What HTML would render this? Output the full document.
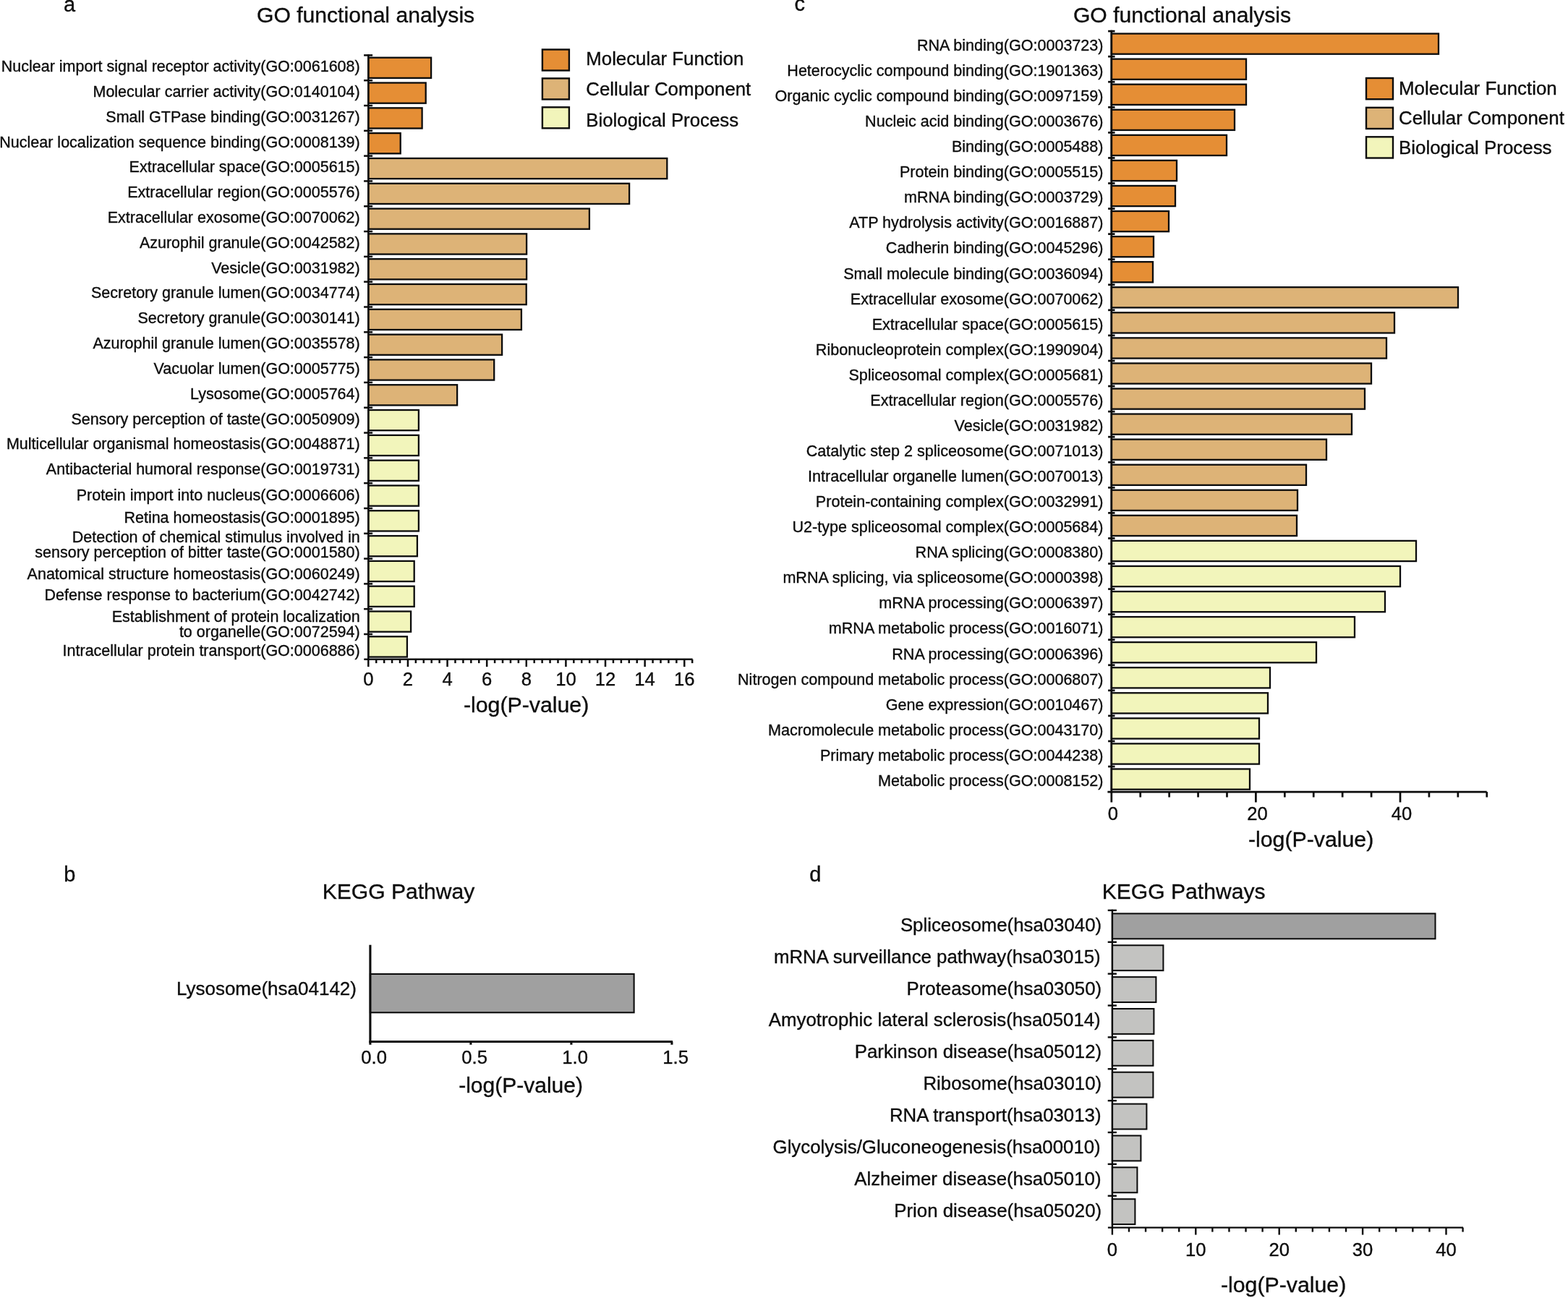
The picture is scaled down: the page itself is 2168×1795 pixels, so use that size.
<!DOCTYPE html>
<html lang="en">
<head>
<meta charset="utf-8">
<title>GO functional analysis and KEGG pathways</title>
<style>
html,body{margin:0;padding:0;background:#fff;}
body{width:2168px;height:1795px;overflow:hidden;}
svg{display:block;font-family:"Liberation Sans",sans-serif;}
svg text{fill:#0c0c0c;stroke:#0c0c0c;stroke-width:0.35px;}
svg line,svg rect{stroke:#0c0c0c;}
</style>
</head>
<body>
<svg role="img" aria-label="GO functional analysis and KEGG pathway bar charts" width="2168" height="1795" viewBox="0 0 2168 1795">
<rect x="0" y="0" width="2168" height="1795" fill="#ffffff" stroke="none" style="stroke:none"/>
<g id="panel-a">
<rect x="509.30" y="79.70" width="86.80" height="28.20" fill="#E58E35" stroke-width="2.3"/>
<rect x="509.30" y="114.51" width="79.40" height="28.20" fill="#E58E35" stroke-width="2.3"/>
<rect x="509.30" y="149.32" width="74.30" height="28.20" fill="#E58E35" stroke-width="2.3"/>
<rect x="509.30" y="184.13" width="44.40" height="28.20" fill="#E58E35" stroke-width="2.3"/>
<rect x="509.30" y="218.94" width="413.00" height="28.20" fill="#DDB377" stroke-width="2.3"/>
<rect x="509.30" y="253.75" width="360.80" height="28.20" fill="#DDB377" stroke-width="2.3"/>
<rect x="509.30" y="288.55" width="305.60" height="28.20" fill="#DDB377" stroke-width="2.3"/>
<rect x="509.30" y="323.36" width="218.80" height="28.20" fill="#DDB377" stroke-width="2.3"/>
<rect x="509.30" y="358.17" width="218.80" height="28.20" fill="#DDB377" stroke-width="2.3"/>
<rect x="509.30" y="392.98" width="218.40" height="28.20" fill="#DDB377" stroke-width="2.3"/>
<rect x="509.30" y="427.79" width="211.60" height="28.20" fill="#DDB377" stroke-width="2.3"/>
<rect x="509.30" y="462.60" width="184.80" height="28.20" fill="#DDB377" stroke-width="2.3"/>
<rect x="509.30" y="497.40" width="173.90" height="28.20" fill="#DDB377" stroke-width="2.3"/>
<rect x="509.30" y="532.21" width="122.80" height="28.20" fill="#DDB377" stroke-width="2.3"/>
<rect x="509.30" y="567.02" width="69.60" height="28.20" fill="#F2F5BB" stroke-width="2.3"/>
<rect x="509.30" y="601.83" width="69.60" height="28.20" fill="#F2F5BB" stroke-width="2.3"/>
<rect x="509.30" y="636.64" width="69.60" height="28.20" fill="#F2F5BB" stroke-width="2.3"/>
<rect x="509.30" y="671.45" width="69.60" height="28.20" fill="#F2F5BB" stroke-width="2.3"/>
<rect x="509.30" y="706.25" width="69.60" height="28.20" fill="#F2F5BB" stroke-width="2.3"/>
<rect x="509.30" y="741.06" width="67.60" height="28.20" fill="#F2F5BB" stroke-width="2.3"/>
<rect x="509.30" y="775.87" width="63.40" height="28.20" fill="#F2F5BB" stroke-width="2.3"/>
<rect x="509.30" y="810.68" width="63.40" height="28.20" fill="#F2F5BB" stroke-width="2.3"/>
<rect x="509.30" y="845.49" width="58.80" height="28.20" fill="#F2F5BB" stroke-width="2.3"/>
<rect x="509.30" y="880.30" width="53.60" height="28.20" fill="#F2F5BB" stroke-width="2.3"/>
<line x1="509.30" y1="75.15" x2="509.30" y2="913.05" stroke-width="2.5"/>
<line x1="503.10" y1="76.40" x2="515.10" y2="76.40" stroke-width="2.5"/>
<line x1="503.10" y1="111.21" x2="515.10" y2="111.21" stroke-width="2.5"/>
<line x1="503.10" y1="146.02" x2="515.10" y2="146.02" stroke-width="2.5"/>
<line x1="503.10" y1="180.82" x2="515.10" y2="180.82" stroke-width="2.5"/>
<line x1="503.10" y1="215.63" x2="515.10" y2="215.63" stroke-width="2.5"/>
<line x1="503.10" y1="250.44" x2="515.10" y2="250.44" stroke-width="2.5"/>
<line x1="503.10" y1="285.25" x2="515.10" y2="285.25" stroke-width="2.5"/>
<line x1="503.10" y1="320.06" x2="515.10" y2="320.06" stroke-width="2.5"/>
<line x1="503.10" y1="354.87" x2="515.10" y2="354.87" stroke-width="2.5"/>
<line x1="503.10" y1="389.67" x2="515.10" y2="389.67" stroke-width="2.5"/>
<line x1="503.10" y1="424.48" x2="515.10" y2="424.48" stroke-width="2.5"/>
<line x1="503.10" y1="459.29" x2="515.10" y2="459.29" stroke-width="2.5"/>
<line x1="503.10" y1="494.10" x2="515.10" y2="494.10" stroke-width="2.5"/>
<line x1="503.10" y1="528.91" x2="515.10" y2="528.91" stroke-width="2.5"/>
<line x1="503.10" y1="563.72" x2="515.10" y2="563.72" stroke-width="2.5"/>
<line x1="503.10" y1="598.52" x2="515.10" y2="598.52" stroke-width="2.5"/>
<line x1="503.10" y1="633.33" x2="515.10" y2="633.33" stroke-width="2.5"/>
<line x1="503.10" y1="668.14" x2="515.10" y2="668.14" stroke-width="2.5"/>
<line x1="503.10" y1="702.95" x2="515.10" y2="702.95" stroke-width="2.5"/>
<line x1="503.10" y1="737.76" x2="515.10" y2="737.76" stroke-width="2.5"/>
<line x1="503.10" y1="772.57" x2="515.10" y2="772.57" stroke-width="2.5"/>
<line x1="503.10" y1="807.37" x2="515.10" y2="807.37" stroke-width="2.5"/>
<line x1="503.10" y1="842.18" x2="515.10" y2="842.18" stroke-width="2.5"/>
<line x1="503.10" y1="876.99" x2="515.10" y2="876.99" stroke-width="2.5"/>
<line x1="503.30" y1="911.80" x2="957.60" y2="911.80" stroke-width="2.5"/>
<line x1="509.30" y1="911.80" x2="509.30" y2="922.10" stroke-width="2.5"/>
<text x="509.3" y="948.0" font-size="25.6" text-anchor="middle">0</text>
<line x1="563.92" y1="911.80" x2="563.92" y2="922.10" stroke-width="2.5"/>
<text x="563.9" y="948.0" font-size="25.6" text-anchor="middle">2</text>
<line x1="618.54" y1="911.80" x2="618.54" y2="922.10" stroke-width="2.5"/>
<text x="618.5" y="948.0" font-size="25.6" text-anchor="middle">4</text>
<line x1="673.16" y1="911.80" x2="673.16" y2="922.10" stroke-width="2.5"/>
<text x="673.2" y="948.0" font-size="25.6" text-anchor="middle">6</text>
<line x1="727.78" y1="911.80" x2="727.78" y2="922.10" stroke-width="2.5"/>
<text x="727.8" y="948.0" font-size="25.6" text-anchor="middle">8</text>
<line x1="782.40" y1="911.80" x2="782.40" y2="922.10" stroke-width="2.5"/>
<text x="782.4" y="948.0" font-size="25.6" text-anchor="middle">10</text>
<line x1="837.02" y1="911.80" x2="837.02" y2="922.10" stroke-width="2.5"/>
<text x="837.0" y="948.0" font-size="25.6" text-anchor="middle">12</text>
<line x1="891.64" y1="911.80" x2="891.64" y2="922.10" stroke-width="2.5"/>
<text x="891.6" y="948.0" font-size="25.6" text-anchor="middle">14</text>
<line x1="946.26" y1="911.80" x2="946.26" y2="922.10" stroke-width="2.5"/>
<text x="946.3" y="948.0" font-size="25.6" text-anchor="middle">16</text>
<line x1="520.22" y1="911.80" x2="520.22" y2="917.10" stroke-width="2.5"/>
<line x1="531.15" y1="911.80" x2="531.15" y2="917.10" stroke-width="2.5"/>
<line x1="542.07" y1="911.80" x2="542.07" y2="917.10" stroke-width="2.5"/>
<line x1="553.00" y1="911.80" x2="553.00" y2="917.10" stroke-width="2.5"/>
<line x1="574.84" y1="911.80" x2="574.84" y2="917.10" stroke-width="2.5"/>
<line x1="585.77" y1="911.80" x2="585.77" y2="917.10" stroke-width="2.5"/>
<line x1="596.69" y1="911.80" x2="596.69" y2="917.10" stroke-width="2.5"/>
<line x1="607.62" y1="911.80" x2="607.62" y2="917.10" stroke-width="2.5"/>
<line x1="629.46" y1="911.80" x2="629.46" y2="917.10" stroke-width="2.5"/>
<line x1="640.39" y1="911.80" x2="640.39" y2="917.10" stroke-width="2.5"/>
<line x1="651.31" y1="911.80" x2="651.31" y2="917.10" stroke-width="2.5"/>
<line x1="662.24" y1="911.80" x2="662.24" y2="917.10" stroke-width="2.5"/>
<line x1="684.08" y1="911.80" x2="684.08" y2="917.10" stroke-width="2.5"/>
<line x1="695.01" y1="911.80" x2="695.01" y2="917.10" stroke-width="2.5"/>
<line x1="705.93" y1="911.80" x2="705.93" y2="917.10" stroke-width="2.5"/>
<line x1="716.86" y1="911.80" x2="716.86" y2="917.10" stroke-width="2.5"/>
<line x1="738.70" y1="911.80" x2="738.70" y2="917.10" stroke-width="2.5"/>
<line x1="749.63" y1="911.80" x2="749.63" y2="917.10" stroke-width="2.5"/>
<line x1="760.55" y1="911.80" x2="760.55" y2="917.10" stroke-width="2.5"/>
<line x1="771.48" y1="911.80" x2="771.48" y2="917.10" stroke-width="2.5"/>
<line x1="793.32" y1="911.80" x2="793.32" y2="917.10" stroke-width="2.5"/>
<line x1="804.25" y1="911.80" x2="804.25" y2="917.10" stroke-width="2.5"/>
<line x1="815.17" y1="911.80" x2="815.17" y2="917.10" stroke-width="2.5"/>
<line x1="826.10" y1="911.80" x2="826.10" y2="917.10" stroke-width="2.5"/>
<line x1="847.94" y1="911.80" x2="847.94" y2="917.10" stroke-width="2.5"/>
<line x1="858.87" y1="911.80" x2="858.87" y2="917.10" stroke-width="2.5"/>
<line x1="869.79" y1="911.80" x2="869.79" y2="917.10" stroke-width="2.5"/>
<line x1="880.72" y1="911.80" x2="880.72" y2="917.10" stroke-width="2.5"/>
<line x1="902.56" y1="911.80" x2="902.56" y2="917.10" stroke-width="2.5"/>
<line x1="913.49" y1="911.80" x2="913.49" y2="917.10" stroke-width="2.5"/>
<line x1="924.41" y1="911.80" x2="924.41" y2="917.10" stroke-width="2.5"/>
<line x1="935.34" y1="911.80" x2="935.34" y2="917.10" stroke-width="2.5"/>
<line x1="957.18" y1="911.80" x2="957.18" y2="917.10" stroke-width="2.5"/>
<text x="497.7" y="99.1" font-size="21.5" text-anchor="end">Nuclear import signal receptor activity(GO:0061608)</text>
<text x="497.7" y="134.0" font-size="21.5" text-anchor="end">Molecular carrier activity(GO:0140104)</text>
<text x="497.7" y="168.8" font-size="21.5" text-anchor="end">Small GTPase binding(GO:0031267)</text>
<text x="497.7" y="203.6" font-size="21.5" text-anchor="end">Nuclear localization sequence binding(GO:0008139)</text>
<text x="497.7" y="238.4" font-size="21.5" text-anchor="end">Extracellular space(GO:0005615)</text>
<text x="497.7" y="273.2" font-size="21.5" text-anchor="end">Extracellular region(GO:0005576)</text>
<text x="497.7" y="308.0" font-size="21.5" text-anchor="end">Extracellular exosome(GO:0070062)</text>
<text x="497.7" y="342.8" font-size="21.5" text-anchor="end">Azurophil granule(GO:0042582)</text>
<text x="497.7" y="377.6" font-size="21.5" text-anchor="end">Vesicle(GO:0031982)</text>
<text x="497.7" y="412.4" font-size="21.5" text-anchor="end">Secretory granule lumen(GO:0034774)</text>
<text x="497.7" y="447.2" font-size="21.5" text-anchor="end">Secretory granule(GO:0030141)</text>
<text x="497.7" y="482.0" font-size="21.5" text-anchor="end">Azurophil granule lumen(GO:0035578)</text>
<text x="497.7" y="516.8" font-size="21.5" text-anchor="end">Vacuolar lumen(GO:0005775)</text>
<text x="497.7" y="551.7" font-size="21.5" text-anchor="end">Lysosome(GO:0005764)</text>
<text x="497.7" y="586.5" font-size="21.5" text-anchor="end">Sensory perception of taste(GO:0050909)</text>
<text x="497.7" y="621.3" font-size="21.5" text-anchor="end">Multicellular organismal homeostasis(GO:0048871)</text>
<text x="497.7" y="655.7" font-size="21.5" text-anchor="end">Antibacterial humoral response(GO:0019731)</text>
<text x="497.7" y="692.0" font-size="21.5" text-anchor="end">Protein import into nucleus(GO:0006606)</text>
<text x="497.7" y="723.1" font-size="21.5" text-anchor="end">Retina homeostasis(GO:0001895)</text>
<text x="497.7" y="749.7" font-size="21.5" text-anchor="end">Detection of chemical stimulus involved in</text>
<text x="497.7" y="771.0" font-size="21.5" text-anchor="end">sensory perception of bitter taste(GO:0001580)</text>
<text x="497.7" y="801.1" font-size="21.5" text-anchor="end">Anatomical structure homeostasis(GO:0060249)</text>
<text x="497.7" y="830.3" font-size="21.5" text-anchor="end">Defense response to bacterium(GO:0042742)</text>
<text x="497.7" y="860.2" font-size="21.5" text-anchor="end">Establishment of protein localization</text>
<text x="497.7" y="881.0" font-size="21.5" text-anchor="end">to organelle(GO:0072594)</text>
<text x="497.7" y="907.0" font-size="21.5" text-anchor="end">Intracellular protein transport(GO:0006886)</text>
<text x="505.6" y="31.0" font-size="30.1" text-anchor="middle">GO functional analysis</text>
<text x="727.6" y="985.0" font-size="30.3" text-anchor="middle">-log(P-value)</text>
<rect x="749.90" y="68.50" width="37.00" height="29.00" fill="#E58E35" stroke-width="2.4"/>
<text x="810.3" y="89.6" font-size="25.8" text-anchor="start">Molecular Function</text>
<rect x="749.90" y="108.40" width="37.00" height="29.00" fill="#DDB377" stroke-width="2.4"/>
<text x="810.3" y="131.7" font-size="25.8" text-anchor="start">Cellular Component</text>
<rect x="749.90" y="148.30" width="37.00" height="29.00" fill="#F2F5BB" stroke-width="2.4"/>
<text x="810.3" y="175.2" font-size="25.8" text-anchor="start">Biological Process</text>
</g>
<g id="panel-c">
<rect x="1536.80" y="46.53" width="452.20" height="28.20" fill="#E58E35" stroke-width="2.3"/>
<rect x="1536.80" y="81.60" width="186.20" height="28.20" fill="#E58E35" stroke-width="2.3"/>
<rect x="1536.80" y="116.67" width="186.20" height="28.20" fill="#E58E35" stroke-width="2.3"/>
<rect x="1536.80" y="151.73" width="170.20" height="28.20" fill="#E58E35" stroke-width="2.3"/>
<rect x="1536.80" y="186.80" width="159.20" height="28.20" fill="#E58E35" stroke-width="2.3"/>
<rect x="1536.80" y="221.87" width="90.20" height="28.20" fill="#E58E35" stroke-width="2.3"/>
<rect x="1536.80" y="256.93" width="88.20" height="28.20" fill="#E58E35" stroke-width="2.3"/>
<rect x="1536.80" y="292.00" width="79.20" height="28.20" fill="#E58E35" stroke-width="2.3"/>
<rect x="1536.80" y="327.07" width="58.20" height="28.20" fill="#E58E35" stroke-width="2.3"/>
<rect x="1536.80" y="362.13" width="57.20" height="28.20" fill="#E58E35" stroke-width="2.3"/>
<rect x="1536.80" y="397.20" width="479.20" height="28.20" fill="#DDB377" stroke-width="2.3"/>
<rect x="1536.80" y="432.27" width="391.20" height="28.20" fill="#DDB377" stroke-width="2.3"/>
<rect x="1536.80" y="467.33" width="380.20" height="28.20" fill="#DDB377" stroke-width="2.3"/>
<rect x="1536.80" y="502.40" width="359.20" height="28.20" fill="#DDB377" stroke-width="2.3"/>
<rect x="1536.80" y="537.47" width="350.20" height="28.20" fill="#DDB377" stroke-width="2.3"/>
<rect x="1536.80" y="572.53" width="332.20" height="28.20" fill="#DDB377" stroke-width="2.3"/>
<rect x="1536.80" y="607.60" width="297.20" height="28.20" fill="#DDB377" stroke-width="2.3"/>
<rect x="1536.80" y="642.67" width="269.20" height="28.20" fill="#DDB377" stroke-width="2.3"/>
<rect x="1536.80" y="677.73" width="257.20" height="28.20" fill="#DDB377" stroke-width="2.3"/>
<rect x="1536.80" y="712.80" width="256.20" height="28.20" fill="#DDB377" stroke-width="2.3"/>
<rect x="1536.80" y="747.87" width="421.20" height="28.20" fill="#F2F5BB" stroke-width="2.3"/>
<rect x="1536.80" y="782.93" width="399.20" height="28.20" fill="#F2F5BB" stroke-width="2.3"/>
<rect x="1536.80" y="818.00" width="378.20" height="28.20" fill="#F2F5BB" stroke-width="2.3"/>
<rect x="1536.80" y="853.07" width="336.20" height="28.20" fill="#F2F5BB" stroke-width="2.3"/>
<rect x="1536.80" y="888.13" width="283.20" height="28.20" fill="#F2F5BB" stroke-width="2.3"/>
<rect x="1536.80" y="923.20" width="219.20" height="28.20" fill="#F2F5BB" stroke-width="2.3"/>
<rect x="1536.80" y="958.27" width="216.20" height="28.20" fill="#F2F5BB" stroke-width="2.3"/>
<rect x="1536.80" y="993.33" width="204.20" height="28.20" fill="#F2F5BB" stroke-width="2.3"/>
<rect x="1536.80" y="1028.40" width="204.20" height="28.20" fill="#F2F5BB" stroke-width="2.3"/>
<rect x="1536.80" y="1063.47" width="191.20" height="28.20" fill="#F2F5BB" stroke-width="2.3"/>
<line x1="1536.80" y1="41.75" x2="1536.80" y2="1096.45" stroke-width="2.7"/>
<line x1="1532.10" y1="43.10" x2="1541.50" y2="43.10" stroke-width="2.7"/>
<line x1="1532.10" y1="78.17" x2="1541.50" y2="78.17" stroke-width="2.7"/>
<line x1="1532.10" y1="113.23" x2="1541.50" y2="113.23" stroke-width="2.7"/>
<line x1="1532.10" y1="148.30" x2="1541.50" y2="148.30" stroke-width="2.7"/>
<line x1="1532.10" y1="183.37" x2="1541.50" y2="183.37" stroke-width="2.7"/>
<line x1="1532.10" y1="218.43" x2="1541.50" y2="218.43" stroke-width="2.7"/>
<line x1="1532.10" y1="253.50" x2="1541.50" y2="253.50" stroke-width="2.7"/>
<line x1="1532.10" y1="288.57" x2="1541.50" y2="288.57" stroke-width="2.7"/>
<line x1="1532.10" y1="323.63" x2="1541.50" y2="323.63" stroke-width="2.7"/>
<line x1="1532.10" y1="358.70" x2="1541.50" y2="358.70" stroke-width="2.7"/>
<line x1="1532.10" y1="393.77" x2="1541.50" y2="393.77" stroke-width="2.7"/>
<line x1="1532.10" y1="428.83" x2="1541.50" y2="428.83" stroke-width="2.7"/>
<line x1="1532.10" y1="463.90" x2="1541.50" y2="463.90" stroke-width="2.7"/>
<line x1="1532.10" y1="498.97" x2="1541.50" y2="498.97" stroke-width="2.7"/>
<line x1="1532.10" y1="534.03" x2="1541.50" y2="534.03" stroke-width="2.7"/>
<line x1="1532.10" y1="569.10" x2="1541.50" y2="569.10" stroke-width="2.7"/>
<line x1="1532.10" y1="604.17" x2="1541.50" y2="604.17" stroke-width="2.7"/>
<line x1="1532.10" y1="639.23" x2="1541.50" y2="639.23" stroke-width="2.7"/>
<line x1="1532.10" y1="674.30" x2="1541.50" y2="674.30" stroke-width="2.7"/>
<line x1="1532.10" y1="709.37" x2="1541.50" y2="709.37" stroke-width="2.7"/>
<line x1="1532.10" y1="744.43" x2="1541.50" y2="744.43" stroke-width="2.7"/>
<line x1="1532.10" y1="779.50" x2="1541.50" y2="779.50" stroke-width="2.7"/>
<line x1="1532.10" y1="814.57" x2="1541.50" y2="814.57" stroke-width="2.7"/>
<line x1="1532.10" y1="849.63" x2="1541.50" y2="849.63" stroke-width="2.7"/>
<line x1="1532.10" y1="884.70" x2="1541.50" y2="884.70" stroke-width="2.7"/>
<line x1="1532.10" y1="919.77" x2="1541.50" y2="919.77" stroke-width="2.7"/>
<line x1="1532.10" y1="954.83" x2="1541.50" y2="954.83" stroke-width="2.7"/>
<line x1="1532.10" y1="989.90" x2="1541.50" y2="989.90" stroke-width="2.7"/>
<line x1="1532.10" y1="1024.97" x2="1541.50" y2="1024.97" stroke-width="2.7"/>
<line x1="1532.10" y1="1060.03" x2="1541.50" y2="1060.03" stroke-width="2.7"/>
<line x1="1531.40" y1="1095.10" x2="2055.70" y2="1095.10" stroke-width="2.7"/>
<line x1="1536.80" y1="1095.10" x2="1536.80" y2="1109.50" stroke-width="2.7"/>
<text x="1538.9" y="1134.0" font-size="25.6" text-anchor="middle">0</text>
<line x1="1736.40" y1="1095.10" x2="1736.40" y2="1109.50" stroke-width="2.7"/>
<text x="1738.5" y="1134.0" font-size="25.6" text-anchor="middle">20</text>
<line x1="1936.00" y1="1095.10" x2="1936.00" y2="1109.50" stroke-width="2.7"/>
<text x="1938.1" y="1134.0" font-size="25.6" text-anchor="middle">40</text>
<line x1="1576.72" y1="1095.10" x2="1576.72" y2="1102.50" stroke-width="2.7"/>
<line x1="1616.64" y1="1095.10" x2="1616.64" y2="1102.50" stroke-width="2.7"/>
<line x1="1656.56" y1="1095.10" x2="1656.56" y2="1102.50" stroke-width="2.7"/>
<line x1="1696.48" y1="1095.10" x2="1696.48" y2="1102.50" stroke-width="2.7"/>
<line x1="1776.32" y1="1095.10" x2="1776.32" y2="1102.50" stroke-width="2.7"/>
<line x1="1816.24" y1="1095.10" x2="1816.24" y2="1102.50" stroke-width="2.7"/>
<line x1="1856.16" y1="1095.10" x2="1856.16" y2="1102.50" stroke-width="2.7"/>
<line x1="1896.08" y1="1095.10" x2="1896.08" y2="1102.50" stroke-width="2.7"/>
<line x1="1975.92" y1="1095.10" x2="1975.92" y2="1102.50" stroke-width="2.7"/>
<line x1="2015.84" y1="1095.10" x2="2015.84" y2="1102.50" stroke-width="2.7"/>
<line x1="2055.76" y1="1095.10" x2="2055.76" y2="1102.50" stroke-width="2.7"/>
<text x="1525.5" y="69.9" font-size="21.55" text-anchor="end">RNA binding(GO:0003723)</text>
<text x="1525.5" y="105.0" font-size="21.55" text-anchor="end">Heterocyclic compound binding(GO:1901363)</text>
<text x="1525.5" y="140.0" font-size="21.55" text-anchor="end">Organic cyclic compound binding(GO:0097159)</text>
<text x="1525.5" y="175.1" font-size="21.55" text-anchor="end">Nucleic acid binding(GO:0003676)</text>
<text x="1525.5" y="210.2" font-size="21.55" text-anchor="end">Binding(GO:0005488)</text>
<text x="1525.5" y="245.2" font-size="21.55" text-anchor="end">Protein binding(GO:0005515)</text>
<text x="1525.5" y="280.3" font-size="21.55" text-anchor="end">mRNA binding(GO:0003729)</text>
<text x="1525.5" y="315.4" font-size="21.55" text-anchor="end">ATP hydrolysis activity(GO:0016887)</text>
<text x="1525.5" y="350.4" font-size="21.55" text-anchor="end">Cadherin binding(GO:0045296)</text>
<text x="1525.5" y="385.5" font-size="21.55" text-anchor="end">Small molecule binding(GO:0036094)</text>
<text x="1525.5" y="420.6" font-size="21.55" text-anchor="end">Extracellular exosome(GO:0070062)</text>
<text x="1525.5" y="455.6" font-size="21.55" text-anchor="end">Extracellular space(GO:0005615)</text>
<text x="1525.5" y="490.7" font-size="21.55" text-anchor="end">Ribonucleoprotein complex(GO:1990904)</text>
<text x="1525.5" y="525.8" font-size="21.55" text-anchor="end">Spliceosomal complex(GO:0005681)</text>
<text x="1525.5" y="560.8" font-size="21.55" text-anchor="end">Extracellular region(GO:0005576)</text>
<text x="1525.5" y="595.9" font-size="21.55" text-anchor="end">Vesicle(GO:0031982)</text>
<text x="1525.5" y="631.0" font-size="21.55" text-anchor="end">Catalytic step 2 spliceosome(GO:0071013)</text>
<text x="1525.5" y="666.0" font-size="21.55" text-anchor="end">Intracellular organelle lumen(GO:0070013)</text>
<text x="1525.5" y="701.1" font-size="21.55" text-anchor="end">Protein-containing complex(GO:0032991)</text>
<text x="1525.5" y="736.2" font-size="21.55" text-anchor="end">U2-type spliceosomal complex(GO:0005684)</text>
<text x="1525.5" y="771.2" font-size="21.55" text-anchor="end">RNA splicing(GO:0008380)</text>
<text x="1525.5" y="806.3" font-size="21.55" text-anchor="end">mRNA splicing, via spliceosome(GO:0000398)</text>
<text x="1525.5" y="841.4" font-size="21.55" text-anchor="end">mRNA processing(GO:0006397)</text>
<text x="1525.5" y="876.4" font-size="21.55" text-anchor="end">mRNA metabolic process(GO:0016071)</text>
<text x="1525.5" y="911.5" font-size="21.55" text-anchor="end">RNA processing(GO:0006396)</text>
<text x="1525.5" y="946.6" font-size="21.55" text-anchor="end">Nitrogen compound metabolic process(GO:0006807)</text>
<text x="1525.5" y="981.6" font-size="21.55" text-anchor="end">Gene expression(GO:0010467)</text>
<text x="1525.5" y="1016.7" font-size="21.55" text-anchor="end">Macromolecule metabolic process(GO:0043170)</text>
<text x="1525.5" y="1051.8" font-size="21.55" text-anchor="end">Primary metabolic process(GO:0044238)</text>
<text x="1525.5" y="1086.8" font-size="21.55" text-anchor="end">Metabolic process(GO:0008152)</text>
<text x="1634.5" y="30.5" font-size="30.1" text-anchor="middle">GO functional analysis</text>
<text x="1812.6" y="1171.3" font-size="30.3" text-anchor="middle">-log(P-value)</text>
<rect x="1889.00" y="108.00" width="37.00" height="29.20" fill="#E58E35" stroke-width="2.4"/>
<text x="1934.0" y="131.0" font-size="25.9" text-anchor="start">Molecular Function</text>
<rect x="1889.00" y="148.80" width="37.00" height="29.20" fill="#DDB377" stroke-width="2.4"/>
<text x="1934.0" y="172.3" font-size="25.9" text-anchor="start">Cellular Component</text>
<rect x="1889.00" y="189.30" width="37.00" height="29.20" fill="#F2F5BB" stroke-width="2.4"/>
<text x="1934.0" y="213.0" font-size="25.9" text-anchor="start">Biological Process</text>
</g>
<g id="panel-b">
<rect x="511.90" y="1346.95" width="364.70" height="53.30" fill="#A0A0A0" stroke-width="2.1"/>
<line x1="511.90" y1="1306.70" x2="511.90" y2="1442.05" stroke-width="3.1"/>
<line x1="510.40" y1="1440.50" x2="930.00" y2="1440.50" stroke-width="3.1"/>
<line x1="511.90" y1="1440.50" x2="511.90" y2="1444.70" stroke-width="3.1"/>
<text x="517.1" y="1470.5" font-size="25.6" text-anchor="middle">0.0</text>
<line x1="650.90" y1="1440.50" x2="650.90" y2="1444.70" stroke-width="3.1"/>
<text x="656.1" y="1470.5" font-size="25.6" text-anchor="middle">0.5</text>
<line x1="789.90" y1="1440.50" x2="789.90" y2="1444.70" stroke-width="3.1"/>
<text x="795.1" y="1470.5" font-size="25.6" text-anchor="middle">1.0</text>
<line x1="928.90" y1="1440.50" x2="928.90" y2="1444.70" stroke-width="3.1"/>
<text x="934.1" y="1470.5" font-size="25.6" text-anchor="middle">1.5</text>
<text x="493.0" y="1375.9" font-size="26.0" text-anchor="end">Lysosome(hsa04142)</text>
<text x="551.0" y="1243.4" font-size="30.1" text-anchor="middle">KEGG Pathway</text>
<text x="720.1" y="1510.5" font-size="30.0" text-anchor="middle">-log(P-value)</text>
</g>
<g id="panel-d">
<rect x="1537.90" y="1263.38" width="446.60" height="34.90" fill="#A0A0A0" stroke-width="2.05"/>
<rect x="1537.90" y="1307.26" width="70.50" height="34.90" fill="#C3C3C1" stroke-width="2.05"/>
<rect x="1537.90" y="1351.12" width="60.50" height="34.90" fill="#C3C3C1" stroke-width="2.05"/>
<rect x="1537.90" y="1394.99" width="57.50" height="34.90" fill="#C3C3C1" stroke-width="2.05"/>
<rect x="1537.90" y="1438.87" width="56.50" height="34.90" fill="#C3C3C1" stroke-width="2.05"/>
<rect x="1537.90" y="1482.73" width="56.50" height="34.90" fill="#C3C3C1" stroke-width="2.05"/>
<rect x="1537.90" y="1526.61" width="47.50" height="34.90" fill="#C3C3C1" stroke-width="2.05"/>
<rect x="1537.90" y="1570.47" width="39.50" height="34.90" fill="#C3C3C1" stroke-width="2.05"/>
<rect x="1537.90" y="1614.35" width="34.50" height="34.90" fill="#C3C3C1" stroke-width="2.05"/>
<rect x="1537.90" y="1658.21" width="31.50" height="34.90" fill="#C3C3C1" stroke-width="2.05"/>
<line x1="1537.90" y1="1257.70" x2="1537.90" y2="1698.80" stroke-width="2.4"/>
<line x1="1531.70" y1="1258.90" x2="1543.90" y2="1258.90" stroke-width="2.4"/>
<line x1="1531.70" y1="1302.77" x2="1543.90" y2="1302.77" stroke-width="2.4"/>
<line x1="1531.70" y1="1346.64" x2="1543.90" y2="1346.64" stroke-width="2.4"/>
<line x1="1531.70" y1="1390.51" x2="1543.90" y2="1390.51" stroke-width="2.4"/>
<line x1="1531.70" y1="1434.38" x2="1543.90" y2="1434.38" stroke-width="2.4"/>
<line x1="1531.70" y1="1478.25" x2="1543.90" y2="1478.25" stroke-width="2.4"/>
<line x1="1531.70" y1="1522.12" x2="1543.90" y2="1522.12" stroke-width="2.4"/>
<line x1="1531.70" y1="1565.99" x2="1543.90" y2="1565.99" stroke-width="2.4"/>
<line x1="1531.70" y1="1609.86" x2="1543.90" y2="1609.86" stroke-width="2.4"/>
<line x1="1531.70" y1="1653.73" x2="1543.90" y2="1653.73" stroke-width="2.4"/>
<line x1="1531.90" y1="1697.60" x2="2023.00" y2="1697.60" stroke-width="2.4"/>
<line x1="1537.90" y1="1697.60" x2="1537.90" y2="1707.60" stroke-width="2.4"/>
<text x="1537.9" y="1737.1" font-size="25.6" text-anchor="middle">0</text>
<line x1="1653.30" y1="1697.60" x2="1653.30" y2="1707.60" stroke-width="2.4"/>
<text x="1653.3" y="1737.1" font-size="25.6" text-anchor="middle">10</text>
<line x1="1768.70" y1="1697.60" x2="1768.70" y2="1707.60" stroke-width="2.4"/>
<text x="1768.7" y="1737.1" font-size="25.6" text-anchor="middle">20</text>
<line x1="1884.10" y1="1697.60" x2="1884.10" y2="1707.60" stroke-width="2.4"/>
<text x="1884.1" y="1737.1" font-size="25.6" text-anchor="middle">30</text>
<line x1="1999.50" y1="1697.60" x2="1999.50" y2="1707.60" stroke-width="2.4"/>
<text x="1999.5" y="1737.1" font-size="25.6" text-anchor="middle">40</text>
<line x1="1560.98" y1="1697.60" x2="1560.98" y2="1703.60" stroke-width="2.4"/>
<line x1="1584.06" y1="1697.60" x2="1584.06" y2="1703.60" stroke-width="2.4"/>
<line x1="1607.14" y1="1697.60" x2="1607.14" y2="1703.60" stroke-width="2.4"/>
<line x1="1630.22" y1="1697.60" x2="1630.22" y2="1703.60" stroke-width="2.4"/>
<line x1="1676.38" y1="1697.60" x2="1676.38" y2="1703.60" stroke-width="2.4"/>
<line x1="1699.46" y1="1697.60" x2="1699.46" y2="1703.60" stroke-width="2.4"/>
<line x1="1722.54" y1="1697.60" x2="1722.54" y2="1703.60" stroke-width="2.4"/>
<line x1="1745.62" y1="1697.60" x2="1745.62" y2="1703.60" stroke-width="2.4"/>
<line x1="1791.78" y1="1697.60" x2="1791.78" y2="1703.60" stroke-width="2.4"/>
<line x1="1814.86" y1="1697.60" x2="1814.86" y2="1703.60" stroke-width="2.4"/>
<line x1="1837.94" y1="1697.60" x2="1837.94" y2="1703.60" stroke-width="2.4"/>
<line x1="1861.02" y1="1697.60" x2="1861.02" y2="1703.60" stroke-width="2.4"/>
<line x1="1907.18" y1="1697.60" x2="1907.18" y2="1703.60" stroke-width="2.4"/>
<line x1="1930.26" y1="1697.60" x2="1930.26" y2="1703.60" stroke-width="2.4"/>
<line x1="1953.34" y1="1697.60" x2="1953.34" y2="1703.60" stroke-width="2.4"/>
<line x1="1976.42" y1="1697.60" x2="1976.42" y2="1703.60" stroke-width="2.4"/>
<line x1="2022.58" y1="1697.60" x2="2022.58" y2="1703.60" stroke-width="2.4"/>
<text x="1523.1" y="1287.8" font-size="25.8" text-anchor="end">Spliceosome(hsa03040)</text>
<text x="1521.7" y="1331.7" font-size="25.8" text-anchor="end">mRNA surveillance pathway(hsa03015)</text>
<text x="1523.1" y="1375.6" font-size="25.8" text-anchor="end">Proteasome(hsa03050)</text>
<text x="1521.7" y="1419.4" font-size="25.8" text-anchor="end">Amyotrophic lateral sclerosis(hsa05014)</text>
<text x="1523.1" y="1463.3" font-size="25.8" text-anchor="end">Parkinson disease(hsa05012)</text>
<text x="1523.1" y="1507.2" font-size="25.8" text-anchor="end">Ribosome(hsa03010)</text>
<text x="1522.5" y="1551.0" font-size="25.8" text-anchor="end">RNA transport(hsa03013)</text>
<text x="1521.7" y="1594.9" font-size="25.8" text-anchor="end">Glycolysis/Gluconeogenesis(hsa00010)</text>
<text x="1522.5" y="1638.8" font-size="25.8" text-anchor="end">Alzheimer disease(hsa05010)</text>
<text x="1523.1" y="1682.7" font-size="25.8" text-anchor="end">Prion disease(hsa05020)</text>
<text x="1636.6" y="1243.2" font-size="30.1" text-anchor="middle">KEGG Pathways</text>
<text x="1774.6" y="1786.7" font-size="30.3" text-anchor="middle">-log(P-value)</text>
</g>
<g id="panel-letters">
<text x="88.0" y="15.8" font-size="29" text-anchor="start">a</text>
<text x="88.2" y="1219.1" font-size="29" text-anchor="start">b</text>
<text x="1098.5" y="15.2" font-size="29" text-anchor="start">c</text>
<text x="1119.2" y="1218.5" font-size="29" text-anchor="start">d</text>
</g>
</svg>
</body>
</html>
